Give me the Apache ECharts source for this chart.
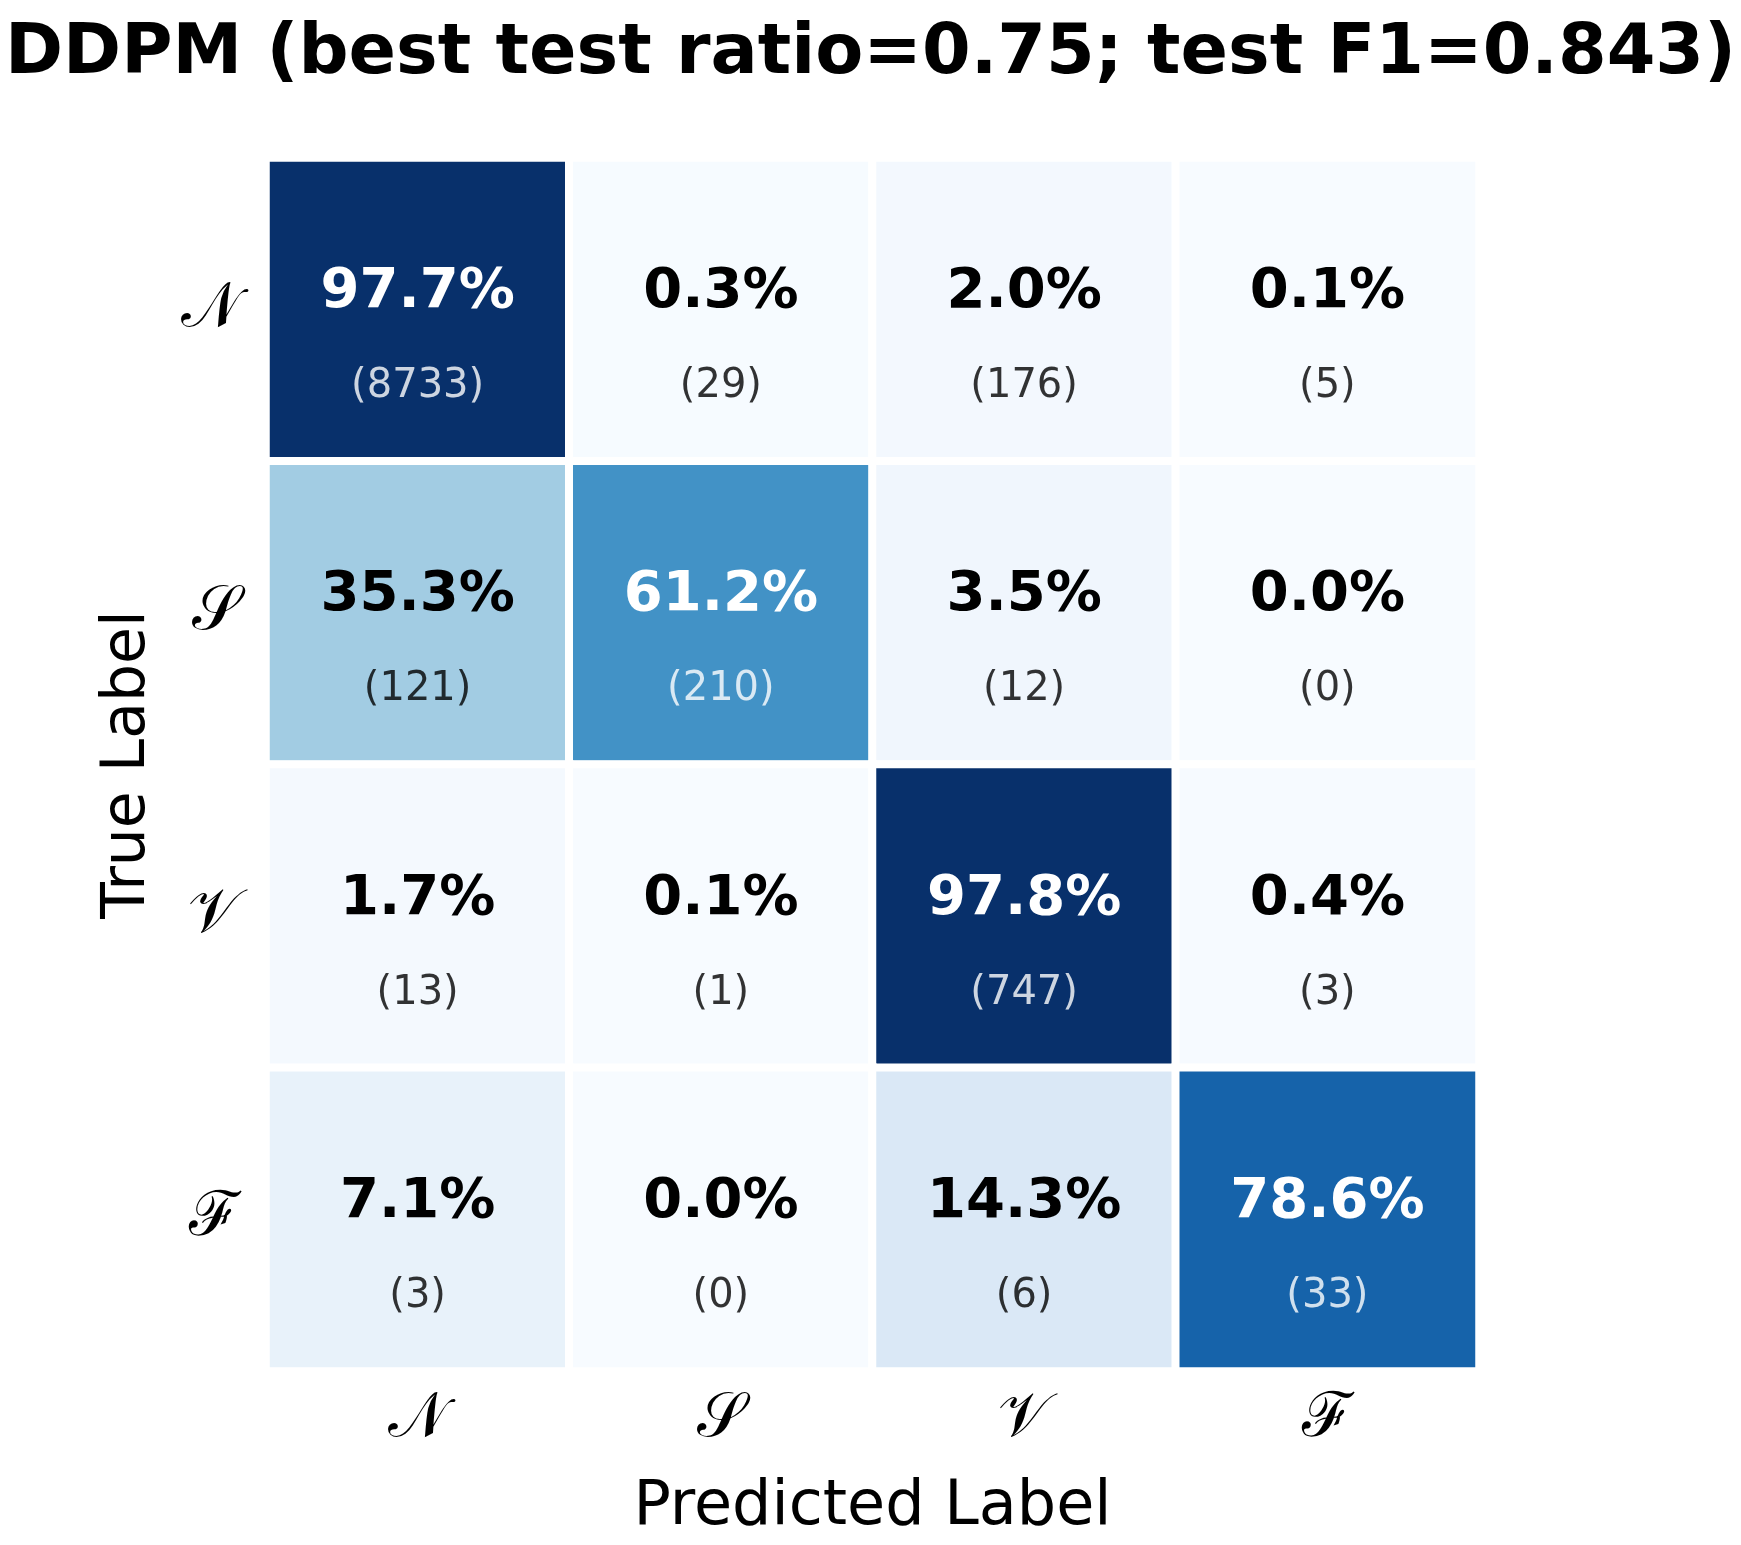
<!DOCTYPE html>
<html>
<head>
<meta charset="utf-8">
<title>DDPM confusion matrix</title>
<script src="https://cdn.jsdelivr.net/npm/echarts@6/dist/echarts.min.js"></script>
<style>
  html, body { margin: 0; padding: 0; background: #fff; }
  #chart { width: 1741px; height: 1545px; }
</style>
</head>
<body>
<div id="chart"></div>
<script>
// ---- data ----
var classLabels = ['\u{1D4A9}', '\u{1D4AE}', '\u{1D4B1}', '\u2131']; // N, S, V, F (script)
// row = true label, col = predicted label (percent of row)
var pctN = [97.7, 0.3, 2.0, 0.1];
var pctS = [35.3, 61.2, 3.5, 0.0];
var pctV = [1.7, 0.1, 97.8, 0.4];
var pctF = [7.1, 0.0, 14.3, 78.6];
var cntN = [8733, 29, 176, 5];
var cntS = [121, 210, 12, 0];
var cntV = [13, 1, 747, 3];
var cntF = [3, 0, 6, 33];

var TITLE = 'DDPM (best test ratio=0.75; test F1=0.843)';
var BLUES = ['#f7fbff', '#deebf7', '#c6dbef', '#9ecae1', '#6baed6', '#4292c6', '#2171b5', '#08519c', '#08306b'];

var pctRows = [pctN, pctS, pctV, pctF];
var cntRows = [cntN, cntS, cntV, cntF];

// heatmap items: [col, row, percent, count]
var cells = [];
var vmax = 0;
pctRows.forEach(function(row, r) {
  row.forEach(function(v, c) {
    cells.push([c, r, v, cntRows[r][c]]);
    if (v > vmax) vmax = v;
  });
});

var chart = echarts.init(document.getElementById('chart'));

chart.setOption({
  animation: false,
  backgroundColor: '#ffffff',
  title: {
    text: TITLE,
    left: 'center',
    top: 15,
    textStyle: { fontFamily: 'DejaVu Sans', fontWeight: 'bold', fontSize: 70, color: '#000' }
  },
  grid: { left: 266, top: 158, width: 1213, height: 1213 },
  xAxis: {
    type: 'category',
    data: classLabels,
    name: 'Predicted Label',
    nameLocation: 'middle',
    nameGap: 106,
    nameTextStyle: { fontFamily: 'DejaVu Sans', fontSize: 62, color: '#000' },
    axisLine: { show: false },
    axisTick: { show: false },
    splitArea: { show: false },
    axisLabel: { fontFamily: 'DejaVu Serif', fontSize: 62, color: '#000', margin: 18 }
  },
  yAxis: {
    type: 'category',
    data: classLabels,
    inverse: true,
    name: 'True Label',
    nameLocation: 'middle',
    nameGap: 108,
    nameRotate: 90,
    nameTextStyle: { fontFamily: 'DejaVu Sans', fontSize: 60, color: '#000' },
    axisLine: { show: false },
    axisTick: { show: false },
    splitArea: { show: false },
    axisLabel: { fontFamily: 'DejaVu Serif', fontSize: 62, color: '#000', margin: 26 }
  },
  visualMap: {
    show: false,
    type: 'continuous',
    dimension: 2,
    min: 0,
    max: vmax,
    inRange: { color: BLUES }
  },
  series: [{
    type: 'heatmap',
    data: cells,
    itemStyle: { borderColor: '#ffffff', borderWidth: 8 },
    emphasis: { disabled: true },
    label: {
      show: true,
      offset: [0, 30],
      formatter: function(p) {
        var dark = p.value[2] > vmax / 2;
        var pct = p.value[2].toFixed(1) + '%';
        var cnt = '(' + p.value[3] + ')';
        return dark ? '{pw|' + pct + '}\n{cw|' + cnt + '}' : '{pd|' + pct + '}\n{cd|' + cnt + '}';
      },
      rich: {
        pw: { fontFamily: 'DejaVu Sans', fontWeight: 'bold', fontSize: 56, color: '#ffffff', lineHeight: 94 },
        pd: { fontFamily: 'DejaVu Sans', fontWeight: 'bold', fontSize: 56, color: '#000000', lineHeight: 94 },
        cw: { fontFamily: 'DejaVu Sans', fontSize: 40, color: 'rgba(255,255,255,0.8)', lineHeight: 94 },
        cd: { fontFamily: 'DejaVu Sans', fontSize: 40, color: 'rgba(0,0,0,0.8)', lineHeight: 94 }
      }
    }
  }]
});
</script>
</body>
</html>
